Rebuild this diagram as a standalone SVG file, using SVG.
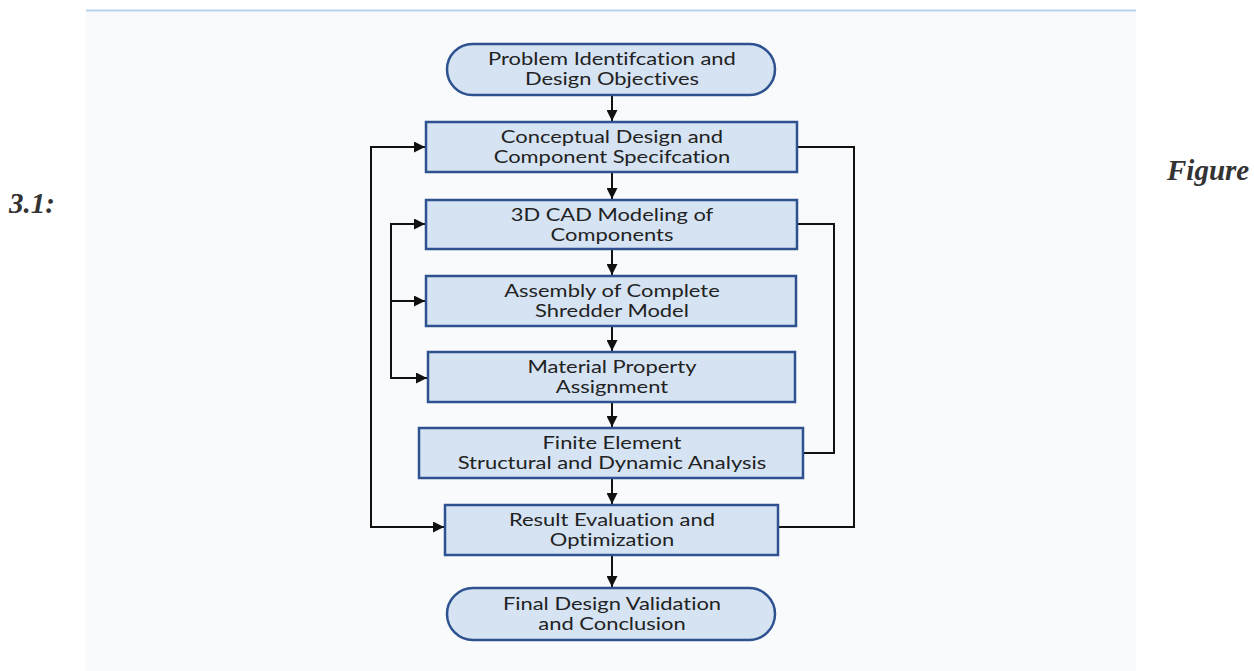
<svg xmlns="http://www.w3.org/2000/svg" width="1254" height="671" viewBox="0 0 1254 671">
<style>
.box{fill:#d5e3f3;stroke:#2e5190;stroke-width:2.5}
.t{font-family:Lato,"Liberation Sans",sans-serif;font-size:17px;font-variant-ligatures:none;fill:#222;text-anchor:middle}
.c{fill:none;stroke:#111;stroke-width:2}
.fig{font-family:"Liberation Serif",serif;font-style:italic;font-weight:bold;font-size:29px;fill:#333}
</style>
<defs>
<marker id="ah2" viewBox="0 0 10 10" refX="10" refY="5" markerWidth="12" markerHeight="11" markerUnits="userSpaceOnUse" orient="auto">
<path d="M0,0 L10,5 L0,10 z" fill="#111"/>
</marker>
</defs>
<rect x="0" y="0" width="1254" height="671" fill="#fff"/>
<rect x="86" y="11" width="1050" height="660" fill="#f9fafb"/>
<line x1="86" y1="10.5" x2="1136" y2="10.5" stroke="#b6d3ec" stroke-width="2"/>
<text class="fig" x="1167" y="180">Figure</text>
<text class="fig" x="9" y="213">3.1:</text>
<g id="connectors">
<line class="c" x1="612" y1="96" x2="612" y2="121" marker-end="url(#ah2)"/>
<line class="c" x1="612" y1="173" x2="612" y2="199" marker-end="url(#ah2)"/>
<line class="c" x1="612" y1="250" x2="612" y2="275" marker-end="url(#ah2)"/>
<line class="c" x1="612" y1="327" x2="612" y2="351" marker-end="url(#ah2)"/>
<line class="c" x1="612" y1="403" x2="612" y2="427" marker-end="url(#ah2)"/>
<line class="c" x1="612" y1="479" x2="612" y2="504" marker-end="url(#ah2)"/>
<line class="c" x1="612" y1="556" x2="612" y2="587" marker-end="url(#ah2)"/>
<polyline class="c" points="797,147 854,147 854,527 778,527"/>
<polyline class="c" points="371,147 371,527"/>
<line class="c" x1="370" y1="147" x2="425" y2="147" marker-end="url(#ah2)"/>
<line class="c" x1="370" y1="527" x2="444" y2="527" marker-end="url(#ah2)"/>
<polyline class="c" points="797,224 834,224 834,453 803,453"/>
<polyline class="c" points="391,224 391,378"/>
<line class="c" x1="390" y1="224" x2="425" y2="224" marker-end="url(#ah2)"/>
<line class="c" x1="391" y1="301" x2="425" y2="301" marker-end="url(#ah2)"/>
<line class="c" x1="390" y1="378" x2="427" y2="378" marker-end="url(#ah2)"/>
</g>
<g id="n1"><rect class="box" x="447" y="44" width="328" height="51" rx="25.5"/><g transform="matrix(1.29 0 0 1 -177.5 0)"><text class="t" x="612" y="65.5">Problem Identifcation and</text><text class="t" x="612" y="85.5">Design Objectives</text></g></g>
<g id="n2"><rect class="box" x="426" y="122" width="371" height="50"/><g transform="matrix(1.29 0 0 1 -177.5 0)"><text class="t" x="612" y="143.5">Conceptual Design and</text><text class="t" x="612" y="163.5">Component Specifcation</text></g></g>
<g id="n3"><rect class="box" x="426" y="200" width="371" height="49"/><g transform="matrix(1.29 0 0 1 -177.5 0)"><text class="t" x="612" y="221">3D CAD Modeling of</text><text class="t" x="612" y="241">Components</text></g></g>
<g id="n4"><rect class="box" x="426" y="276" width="370" height="50"/><g transform="matrix(1.29 0 0 1 -177.5 0)"><text class="t" x="612" y="297.5">Assembly of Complete</text><text class="t" x="612" y="317">Shredder Model</text></g></g>
<g id="n5"><rect class="box" x="428" y="352" width="367" height="50"/><g transform="matrix(1.29 0 0 1 -177.5 0)"><text class="t" x="612" y="373.5">Material Property</text><text class="t" x="612" y="393">Assignment</text></g></g>
<g id="n6"><rect class="box" x="419" y="428" width="384" height="50"/><g transform="matrix(1.29 0 0 1 -177.5 0)"><text class="t" x="612" y="449">Finite Element</text><text class="t" x="612" y="469">Structural and Dynamic Analysis</text></g></g>
<g id="n7"><rect class="box" x="445" y="505" width="333" height="50"/><g transform="matrix(1.29 0 0 1 -177.5 0)"><text class="t" x="612" y="526">Result Evaluation and</text><text class="t" x="612" y="546">Optimization</text></g></g>
<g id="n8"><rect class="box" x="447" y="588" width="328" height="52" rx="26"/><g transform="matrix(1.29 0 0 1 -177.5 0)"><text class="t" x="612" y="610.5">Final Design Validation</text><text class="t" x="612" y="630.5">and Conclusion</text></g></g>
</svg>
